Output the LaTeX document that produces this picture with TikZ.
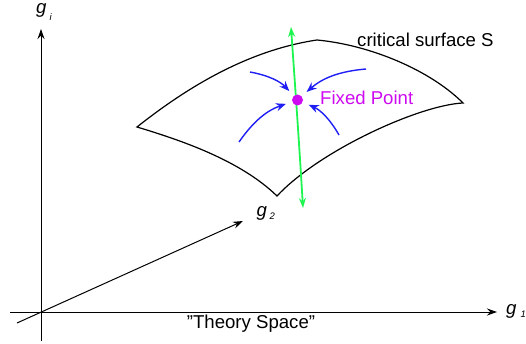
\documentclass[tikz,border=0pt]{standalone}
\usepackage{fontspec}
\setmainfont{Liberation Sans}
\usetikzlibrary{arrows.meta}
\definecolor{bluearr}{RGB}{30,30,245}
\definecolor{greenarr}{RGB}{30,245,80}
\definecolor{fpcol}{RGB}{205,10,240}
\newcommand{\subfnt}{\fontsize{9.5}{11}\selectfont}
\begin{document}
\begin{tikzpicture}[x=1pt,y=-1pt,
  axis/.style={line width=1pt,-{Stealth[length=10pt,width=7pt]}},
  surf/.style={line width=1.2pt,line join=miter},
  flow/.style={bluearr,line width=1.4pt,-{Stealth[length=10pt,width=8pt]},shorten >=6.5pt},
  rgflow/.style={greenarr,line width=1.8pt,{Stealth[length=10pt,width=7pt]}-{Stealth[length=10pt,width=7pt]}},
  lbl/.style={inner sep=0pt,font=\fontsize{18.6}{22}\selectfont}]
\useasboundingbox (0,0) rectangle (526,344);
% axes
\coordinate (vb) at (41,341);
\coordinate (vt) at (41,29);
\coordinate (hl) at (10,312);
\coordinate (hr) at (497,312);
\coordinate (dl) at (17,323);
\coordinate (dr) at (243,221);
\draw[axis] (vb) -- (vt);
\draw[axis] (hl) -- (hr);
\draw[axis] (dl) -- (dr);
% surface
\coordinate (sL) at (137,127);
\coordinate (sT) at (317,40);
\coordinate (sR) at (463,103);
\coordinate (sB) at (277,196);
\draw[surf] (sL) .. controls (190,85) and (250,50) .. (sT)
  .. controls (370,45) and (430,70) .. (sR)
  .. controls (420,105) and (320,150) .. (sB)
  .. controls (240,160) and (180,140) .. cycle;
% green flow
\coordinate (gt) at (291,27);
\coordinate (gb) at (303,208);
\draw[rgflow] (gt) .. controls (295,85) and (299,140) .. (gb);
% fixed point
\node[circle,fill=fpcol,minimum size=11pt,inner sep=0pt] (fp) at (297.5,100) {};
% blue flows
\coordinate (b1) at (250,72);
\coordinate (b2) at (366,69);
\coordinate (b3) at (239,142);
\coordinate (b4) at (339,135);
\draw[flow] (b1) to[bend left=18] (fp);
\draw[flow] (b2) to[bend right=18] (fp);
\draw[flow] (b3) to[bend left=18] (fp);
\draw[flow] (b4) to[bend right=18] (fp);
% labels
\node[lbl,anchor=base west] (cs) at (357,47) {critical surface S};
\node[lbl,anchor=base west,text=fpcol] (fpl) at (320,105) {Fixed Point};
\node[lbl,anchor=base] (ts) at (251,328) {\symbol{34}Theory Space\symbol{34}};
\node[lbl,anchor=base west] (gi) at (36,13.6) {\textit{g}\kern3pt\raisebox{-6.5pt}{\subfnt\textit{i}}};
\node[lbl,anchor=base west] (g2) at (256.5,217) {\textit{g}\kern2.5pt\raisebox{-2.3pt}{\subfnt\textit{2}}};
\node[lbl,anchor=base west] (g1) at (506,314.5) {\textit{g}\kern4pt\raisebox{-2.5pt}{\subfnt\textit{1}}};
\end{tikzpicture}
\end{document}
